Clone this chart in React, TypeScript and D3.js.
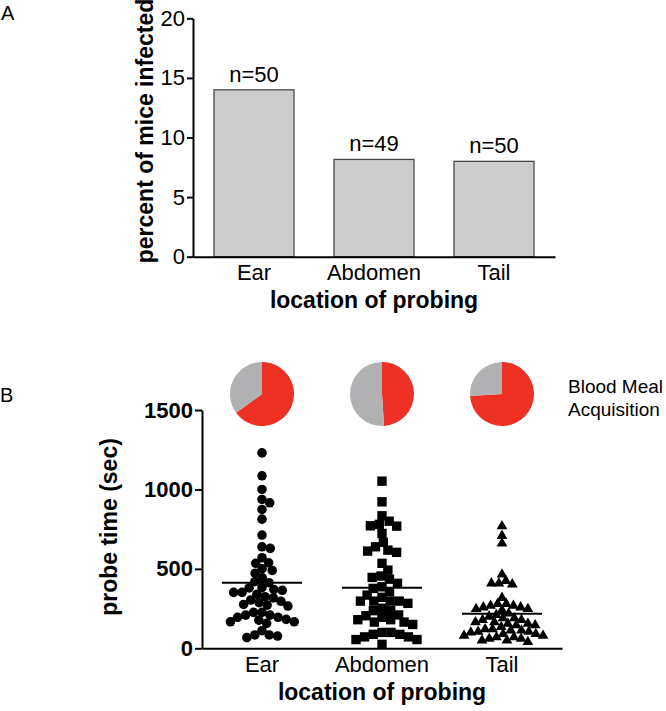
import React, { useEffect, useRef } from "react";
import * as d3 from "d3";

const categories = ["Ear", "Abdomen", "Tail"];
const percentInfected = [14, 8.16, 8];
const sampleSizes = ["n=50", "n=49", "n=50"];
const percentTicks = [0, 5, 10, 15, 20];
const probeTicks = [0, 500, 1000, 1500];
const bloodMealFraction = [0.65, 0.49, 0.74];

const earProbe = [1230, 1086, 1000, 937, 916, 874, 813, 713, 639, 629, 570, 538, 535, 501, 490, 472, 444, 419, 413, 382, 380, 370, 365, 352, 352, 340, 325, 317, 304, 296, 287, 276, 272, 266, 226, 226, 209, 209, 195, 195, 182, 177, 167, 167, 157, 111, 84, 84, 77, 67];
const abdomenProbe = [1052, 922, 834, 800, 780, 771, 769, 723, 667, 639, 618, 612, 604, 535, 492, 455, 446, 435, 409, 387, 377, 356, 335, 321, 297, 297, 297, 297, 283, 252, 237, 237, 210, 205, 195, 180, 180, 165, 165, 150, 100, 100, 88, 88, 72, 72, 55, 55, 25];
const tailProbe = [769, 708, 660, 465, 425, 409, 409, 403, 318, 280, 280, 268, 268, 258, 258, 248, 248, 240, 220, 210, 200, 190, 190, 178, 178, 165, 165, 155, 155, 145, 145, 135, 120, 120, 112, 112, 105, 105, 100, 90, 90, 80, 80, 70, 70, 60, 60, 50, 50, 40];

const FONT = "'Liberation Sans', Arial, Helvetica, sans-serif";

// simple beeswarm: put each point as near the centre as it can go without overlap
function swarm(ys: number[], diam: number): number[] {
  const order = ys.map((y, i) => i).sort((a, b) => ys[a] - ys[b]);
  const xs: number[] = new Array(ys.length).fill(0);
  const placed: number[] = [];
  order.forEach((i) => {
    const y = ys[i];
    const cands = [0];
    placed.forEach((j) => {
      const dy = Math.abs(ys[j] - y);
      if (dy < diam) {
        const dx = Math.sqrt(diam * diam - dy * dy);
        cands.push(xs[j] + dx, xs[j] - dx);
      }
    });
    cands.sort((a, b) => Math.abs(a) - Math.abs(b));
    const ok = cands.find((c) =>
      placed.every((j) => (xs[j] - c) ** 2 + (ys[j] - y) ** 2 >= diam * diam - 0.01)
    );
    xs[i] = ok ?? 0;
    placed.push(i);
  });
  return xs;
}

const App = () => {
  const ref = useRef<SVGSVGElement>(null);

  useEffect(() => {
    const svg = d3.select(ref.current);
    svg.selectAll("*").remove();
    svg.attr("width", 666).attr("height", 711).style("font-family", FONT);

    // ---------- panel A ----------
    const xA = d3.scaleBand().domain(categories).range([193, 555]).paddingInner(1 / 3).paddingOuter(0.175);
    const yA = d3.scaleLinear().domain([0, 20]).range([256.7, 18.3]);

    svg.append("text").attr("x", 1).attr("y", 20).attr("font-size", 20).text("A");

    svg.selectAll(".bar")
      .data(percentInfected)
      .enter()
      .append("rect")
      .attr("x", (d, i) => xA(categories[i])!)
      .attr("y", (d) => yA(d))
      .attr("width", xA.bandwidth())
      .attr("height", (d) => yA(0) - yA(d))
      .attr("fill", "#cccccc")
      .attr("stroke", "#4a4a4a")
      .attr("stroke-width", 1.3);

    svg.selectAll(".nlab")
      .data(percentInfected)
      .enter()
      .append("text")
      .attr("x", (d, i) => xA(categories[i])! + xA.bandwidth() / 2)
      .attr("y", (d) => yA(d) - 8)
      .attr("text-anchor", "middle")
      .attr("font-size", 22)
      .text((d, i) => sampleSizes[i]);

    const axA = svg.append("g").attr("transform", "translate(193,0)")
      .call(d3.axisLeft(yA).tickValues(percentTicks).tickSize(6).tickSizeOuter(0).tickPadding(2));
    axA.selectAll("text").attr("font-size", 22).attr("font-family", FONT).attr("fill", "#000");

    const axAx = svg.append("g").attr("transform", `translate(0,${yA(0)})`)
      .call(d3.axisBottom(xA).tickSize(0).tickSizeOuter(0).tickPadding(8));
    axAx.selectAll("text").attr("font-size", 22).attr("font-family", FONT).attr("fill", "#000");
    svg.selectAll(".domain, .tick line").attr("stroke", "#000").attr("stroke-width", 2);

    svg.append("text").attr("x", 374).attr("y", 308).attr("text-anchor", "middle")
      .attr("font-size", 23).attr("font-weight", "bold").text("location of probing");
    svg.append("text").attr("transform", "translate(153,131) rotate(-90)")
      .attr("text-anchor", "middle").attr("font-size", 23).attr("font-weight", "bold")
      .text("percent of mice infected");

    // ---------- panel B ----------
    const xB = d3.scaleBand().domain(categories).range([202, 562]);
    const yB = d3.scaleLinear().domain([0, 1500]).range([648.3, 410]);
    const cx = (c: string) => xB(c)! + xB.bandwidth() / 2;

    svg.append("text").attr("x", 0).attr("y", 402).attr("font-size", 20).text("B");

    const axB = svg.append("g").attr("transform", "translate(202,0)")
      .call(d3.axisLeft(yB).tickValues(probeTicks).tickFormat(d3.format("d")).tickSize(7).tickSizeOuter(0).tickPadding(2));
    axB.selectAll("text").attr("font-size", 22).attr("font-weight", "bold").attr("font-family", FONT).attr("fill", "#000");
    const axBx = svg.append("g").attr("transform", `translate(0,${yB(0)})`)
      .call(d3.axisBottom(xB).tickSize(0).tickSizeOuter(0).tickPadding(8));
    axBx.selectAll("text").attr("font-size", 22).attr("font-family", FONT).attr("fill", "#000");
    axB.selectAll(".domain, .tick line").attr("stroke", "#000").attr("stroke-width", 2);
    axBx.selectAll(".domain").attr("stroke", "#000").attr("stroke-width", 2);

    svg.append("text").attr("x", 382).attr("y", 700).attr("text-anchor", "middle")
      .attr("font-size", 23).attr("font-weight", "bold").text("location of probing");
    svg.append("text").attr("transform", "translate(117,527) rotate(-90)")
      .attr("text-anchor", "middle").attr("font-size", 23).attr("font-weight", "bold")
      .text("probe time (sec)");

    // pies
    const pie = d3.pie<number>().sort(null);
    const arc = d3.arc<d3.PieArcDatum<number>>().innerRadius(0).outerRadius(32);
    bloodMealFraction.forEach((f, i) => {
      const g = svg.append("g").attr("transform", `translate(${cx(categories[i])},394)`);
      g.selectAll("path")
        .data(pie([f, 1 - f]))
        .enter()
        .append("path")
        .attr("d", arc)
        .attr("fill", (d, k) => (k === 0 ? "#ee3124" : "#b1b1b3"));
    });
    svg.append("text").attr("x", 568).attr("y", 393).attr("font-size", 19).text("Blood Meal");
    svg.append("text").attr("x", 568).attr("y", 416).attr("font-size", 19).text("Acquisition");

    // scatter
    const groups = [
      { vals: earProbe, sym: d3.symbolCircle, size: 72, diam: 8.4 },
      { vals: abdomenProbe, sym: d3.symbolSquare, size: 88, diam: 9.0 },
      { vals: tailProbe, sym: d3.symbolTriangle, size: 50, diam: 7.4 },
    ];
    groups.forEach((grp, i) => {
      const c = cx(categories[i]);
      const ys = grp.vals.map((v) => yB(v));
      const xs = swarm(ys, grp.diam);
      svg.append("g").selectAll("path")
        .data(grp.vals)
        .enter()
        .append("path")
        .attr("transform", (d, k) => `translate(${c + xs[k]},${ys[k]})`)
        .attr("d", d3.symbol().type(grp.sym).size(grp.size)())
        .attr("fill", "#000");
      const m = d3.mean(grp.vals)!;
      svg.append("line")
        .attr("x1", c - 40).attr("x2", c + 40)
        .attr("y1", yB(m)).attr("y2", yB(m))
        .attr("stroke", "#000").attr("stroke-width", 2);
    });
  }, []);

  return <svg ref={ref} style={{ position: "absolute", left: 0, top: 0 }}></svg>;
};

export default App;
